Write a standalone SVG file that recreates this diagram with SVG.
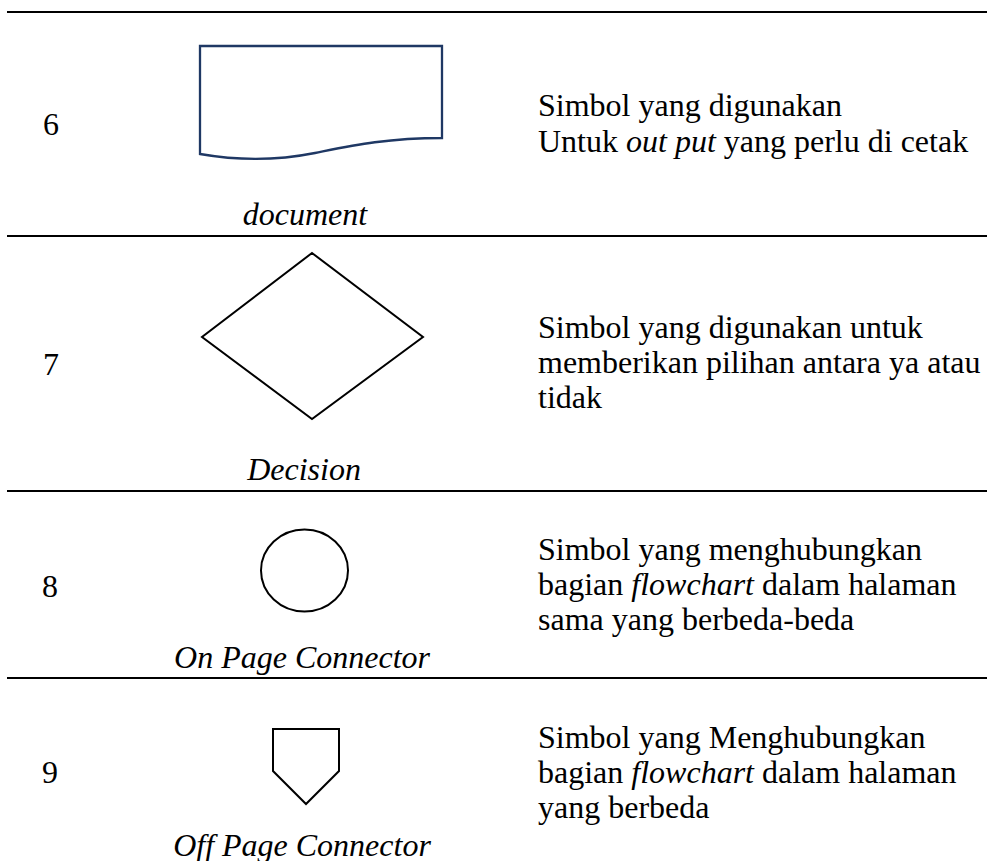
<svg xmlns="http://www.w3.org/2000/svg" width="987" height="861" viewBox="0 0 987 861">
<style>
text{font-family:"Liberation Serif","Times New Roman",serif;font-size:32px;fill:#000}
.i{font-style:italic}
.lbl{font-style:italic;text-anchor:middle}
.rule{stroke:#000;stroke-width:2}
.shp{fill:#fff;stroke:#000;stroke-width:2}
.doc{fill:#fff;stroke:#1f3864;stroke-width:2.3}
</style>
<rect width="987" height="861" fill="#fff"/>
<g id="rules">
<line class="rule" x1="7" y1="12" x2="987" y2="12"/>
<line class="rule" x1="7" y1="236" x2="987" y2="236"/>
<line class="rule" x1="7" y1="491" x2="987" y2="491"/>
<line class="rule" x1="7" y1="678" x2="987" y2="678"/>
</g>
<g id="row6">
<text x="43" y="135">6</text>
<path class="doc" d="M200,46 L442,46 L442,138 C385,138 350,146 315,153 C280,160 240,161 200,154 Z"/>
<text class="lbl" x="305" y="225">document</text>
<text x="538" y="116">Simbol yang digunakan</text>
<text x="538" y="152">Untuk <tspan class="i">out put</tspan> yang perlu di cetak</text>
</g>
<g id="row7">
<text x="43" y="375">7</text>
<polygon class="shp" points="312,253 423,337 312,419 202,337"/>
<text class="lbl" x="304" y="480">Decision</text>
<text x="538" y="338">Simbol yang digunakan untuk</text>
<text x="538" y="373">memberikan pilihan antara ya atau</text>
<text x="538" y="408">tidak</text>
</g>
<g id="row8">
<text x="42" y="597">8</text>
<ellipse class="shp" cx="304.5" cy="570.5" rx="43.5" ry="41"/>
<text class="lbl" x="302" y="668">On Page Connector</text>
<text x="538" y="560">Simbol yang menghubungkan</text>
<text x="538" y="595">bagian <tspan class="i">flowchart</tspan> dalam halaman</text>
<text x="538" y="630">sama yang berbeda-beda</text>
</g>
<g id="row9">
<text x="42" y="783">9</text>
<path class="shp" d="M273,729 L339,729 L339,771 L306,804 L273,771 Z"/>
<text class="lbl" x="302" y="856">Off Page Connector</text>
<text x="538" y="748">Simbol yang Menghubungkan</text>
<text x="538" y="783">bagian <tspan class="i">flowchart</tspan> dalam halaman</text>
<text x="538" y="818">yang berbeda</text>
</g>
</svg>
